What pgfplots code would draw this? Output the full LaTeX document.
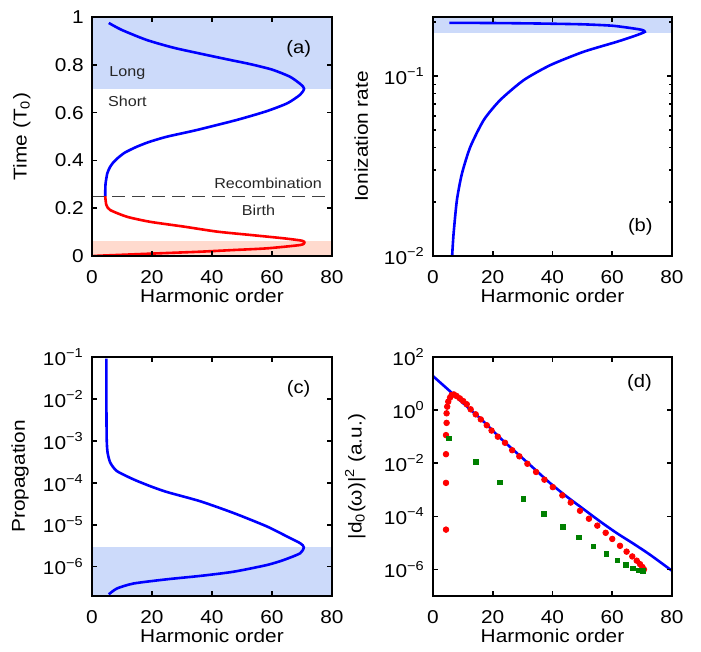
\documentclass[border=0pt]{standalone}
\usepackage{fontspec}
\setmainfont{Liberation Sans}[FakeStretch=1.12]
\usepackage{pgfplots}
\pgfplotsset{compat=1.18}

\definecolor{shadeblue}{RGB}{204,218,250}
\definecolor{shadered}{RGB}{255,218,206}
\definecolor{curveblue}{RGB}{0,0,255}
\definecolor{curvered}{RGB}{255,0,0}
\definecolor{sqgreen}{RGB}{0,128,0}

\tikzset{annot/.style={font=\fontsize{7.2}{8.5}\selectfont, text=black!85},
         tag/.style={font=\fontsize{9}{11}\selectfont}}

\pgfplotsset{
  panel/.style={
    scale only axis, width=120pt, height=119.5pt,
    anchor=south west,
    xmin=0, xmax=80, xtick={0,20,...,80},
    tick align=inside,
    major tick length=2.6pt, minor tick length=1.3pt,
    axis line style={line width=1.1pt},
    tick style={black, line width=0.8pt},
    axis on top,
    font=\fontsize{9.3}{11}\selectfont,
    /pgf/number format/assume math mode=true,
    xlabel={Harmonic order},
    xlabel style={at={(axis description cs:0.5,-0.165)}, anchor=center},
    xticklabel style={yshift=-3.8pt},
    yticklabel style={xshift=-0.6pt},
  },
  curve/.style={line width=1.3pt, smooth, tension=0.4, no marks},
}

\begin{document}
\begin{tikzpicture}
\useasboundingbox (0,0) rectangle (350.5pt,-326pt);

% (a) times
\begin{axis}[panel, at={(46pt,-128pt)},
    ymin=0, ymax=1, ytick={0,0.2,...,1},
    ylabel={Time (T\textsubscript{0})},
    ylabel style={at={(axis description cs:-0.292,0.5)}, anchor=center}]
\addplot[draw=none, fill=shadeblue, forget plot] coordinates {(0,0.7) (80,0.7) (80,1) (0,1)} -- cycle;
\addplot[draw=none, fill=shadered, forget plot] coordinates {(0,0) (80,0) (80,0.062) (0,0.062)} -- cycle;
\addplot[black!75, line width=0.6pt, dash pattern=on 6.5pt off 3.5pt] coordinates {(0,0.25) (80,0.25)};
\addplot[curve, curveblue] coordinates {
  (5.6,0.975) (9.9,0.946) (18.2,0.904) (27,0.872) (36,0.847) (45,0.823)
  (52.7,0.803) (60,0.780) (66,0.750) (69.6,0.718) (70.7,0.700) (69.4,0.675)
  (65.1,0.639) (58,0.605) (48.2,0.569) (34.9,0.527) (24.9,0.499) (19,0.477)
  (14.9,0.457) (11,0.433) (8.6,0.41) (7.0,0.39) (6.0,0.372) (5.1,0.346)
  (4.5,0.30) (4.4,0.25)
};
\addplot[curve, curvered] coordinates {
  (4.4,0.25) (4.8,0.213) (6.1,0.192) (11.7,0.164) (19.4,0.143) (30.6,0.123)
  (41.7,0.102) (52.8,0.088) (63.9,0.074) (70,0.064) (70.8,0.056) (69.4,0.046)
  (58.3,0.032) (47.2,0.025) (36.1,0.018) (25,0.0125) (13.9,0.007) (2.8,0.0014) (0.5,0)
};
\node[tag] at (axis cs:68.9,0.868) {(a)};
\node[annot] at (axis cs:11.8,0.766) {Long};
\node[annot] at (axis cs:11.8,0.648) {Short};
\node[annot] at (axis cs:58.7,0.306) {Recombination};
\node[annot] at (axis cs:55.5,0.19) {Birth};
\end{axis}

% (b) ionization rate
\begin{axis}[panel, at={(216.5pt,-128pt)}, width=119.5pt,
    ymode=log, ymin=0.01, ymax=0.213,
    ytick={0.01,0.1}, yticklabels={10\textsuperscript{−2},10\textsuperscript{−1}},
    minor ytick={0.02,0.03,0.04,0.05,0.06,0.07,0.08,0.09,0.2},
    ylabel={Ionization rate},
    ylabel style={at={(axis description cs:-0.30,0.5)}, anchor=center}]
\addplot[draw=none, fill=shadeblue, forget plot] coordinates {(0,0.1726) (80,0.1726) (80,0.213) (0,0.213)} -- cycle;
\addplot[curve, curveblue] coordinates {
  (6.4,0.0100) (6.9,0.01337) (8.0,0.02046) (9.7,0.02877) (12.5,0.04046)
  (17.0,0.05702) (22.5,0.07362) (30.4,0.09506) (39.3,0.1151) (50.4,0.1365)
  (61.6,0.1552) (68.3,0.1690) (70.9,0.1762) (70.0,0.1805) (67.0,0.1841)
  (60,0.1905) (50,0.1940) (35,0.1960) (20,0.1972) (5.5,0.1977)
};
\node[tag] at (axis cs:69.4,0.01456) {(b)};
\end{axis}

% (c) propagation
\begin{axis}[panel, at={(46pt,-298pt)},
    ymode=log, ymin=2e-7, ymax=0.1,
    ytick={1e-6,1e-5,1e-4,1e-3,1e-2,1e-1},
    yticklabels={10\textsuperscript{−6},10\textsuperscript{−5},10\textsuperscript{−4},10\textsuperscript{−3},10\textsuperscript{−2},10\textsuperscript{−1}},
    minor y tick style={draw=none},
    ylabel={Propagation},
    ylabel style={at={(axis description cs:-0.30,0.5)}, anchor=center}]
\addplot[draw=none, fill=shadeblue, forget plot] coordinates {(0,2e-7) (80,2e-7) (80,2.91e-6) (0,2.91e-6)} -- cycle;
\addplot[curve, curveblue] coordinates {
  (4.8,0.0912) (4.8,0.00832) (4.9,1.096e-3) (5.2,5.25e-4) (6.1,3.02e-4)
  (8.3,1.905e-4) (13.9,1.202e-4) (19.4,8.32e-5) (25.0,6.03e-5) (36.1,3.63e-5)
  (47.2,1.905e-5) (58.3,9.12e-6) (65.0,5.25e-6) (69.4,3.63e-6) (70.6,2.91e-6)
  (69.4,2.09e-6) (63.9,1.445e-6) (58.3,1.096e-6) (47.2,7.59e-7) (36.1,6.03e-7)
  (25.0,5.01e-7) (13.9,3.98e-7) (8.3,3.02e-7) (5.6,2.19e-7)
};
\node[tag] at (axis cs:68.9,0.01738) {(c)};
\end{axis}

% (d) dipole spectrum
\begin{axis}[panel, at={(216.5pt,-298pt)}, width=119.5pt,
    ymode=log, ymin=1e-7, ymax=100,
    ytick={1e-6,1e-4,1e-2,1,100},
    yticklabels={10\textsuperscript{−6},10\textsuperscript{−4},10\textsuperscript{−2},10\textsuperscript{0},10\textsuperscript{2}},
    minor y tick style={draw=none},
    ylabel={|d\textsubscript{0}(ω)|\textsuperscript{2} (a.u.)},
    ylabel style={at={(axis description cs:-0.325,0.5)}, anchor=center}]
\addplot[curve, curveblue] coordinates {
  (0,19.05) (5.6,5.25) (11.2,1.413) (16.8,0.3846) (22.4,0.0912) (28,0.02455)
  (33.6,6.61e-3) (39.1,1.82e-3) (44.7,5.62e-4) (50.3,1.905e-4) (55.9,6.46e-5)
  (61.5,2.34e-5) (67.1,9.33e-6) (72.7,3.55e-6) (80,8.91e-7)
};
\addplot[only marks, mark=*, mark size=1.4pt, curvered, mark options={draw=curvered, fill=curvered}] coordinates {
  (4.35,3.16e-5) (4.35,1.82e-3) (4.35,0.0219) (4.35,0.1148) (4.55,0.331)
  (4.55,0.759) (4.75,1.349) (5.1,2.089) (5.7,2.951) (6.25,3.715) (7.0,3.89)
  (7.9,3.388) (9.0,2.754) (10.1,2.188) (11.3,1.66) (12.6,1.072) (14.3,0.692)
  (16.0,0.447) (18.0,0.269) (19.6,0.170) (21.7,0.1) (24.1,0.0589) (26.5,0.0309)
  (28.9,0.0182) (31.6,9.55e-3) (34.5,4.68e-3) (37.3,2.40e-3) (40.1,1.26e-3)
  (43.3,6.17e-4) (46.1,3.31e-4) (49.2,1.62e-4) (52.2,8.13e-5) (55.0,4.47e-5)
  (57.8,2.40e-5) (60.0,1.41e-5) (62.6,7.76e-6) (64.8,4.68e-6) (66.7,3.09e-6)
  (68.2,2.14e-6) (69.3,1.585e-6) (70.1,1.23e-6) (70.6,1.0e-6)
};
\addplot[only marks, mark=square*, mark size=1.15pt, sqgreen, mark options={draw=sqgreen, fill=sqgreen}] coordinates {
  (5.36,0.0871) (14.3,0.01096) (22.4,1.905e-3) (30.2,4.57e-4) (37.2,1.23e-4)
  (43.4,3.98e-5) (48.9,1.62e-5) (53.7,7.41e-6) (58.1,3.80e-6) (61.7,2.19e-6)
  (64.6,1.48e-6) (67.0,1.096e-6) (68.9,9.12e-7) (70.2,8.71e-7)
};
\node[tag] at (axis cs:69.1,10.7) {(d)};
\end{axis}
\end{tikzpicture}
\end{document}
